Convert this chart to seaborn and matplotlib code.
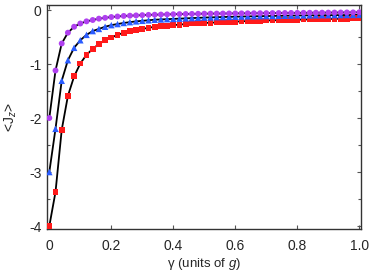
import numpy as np
import pandas as pd
import matplotlib
matplotlib.use("Agg")
import matplotlib.pyplot as plt
import seaborn as sns
from matplotlib.ticker import MultipleLocator, FixedLocator

gamma = [round(0.02 * i, 2) for i in range(51)]

jz_red = [-4.00, -3.37, -2.22, -1.59, -1.23, -0.99, -0.83, -0.72, -0.63, -0.56,
          -0.51, -0.46, -0.42, -0.39, -0.37, -0.35, -0.33, -0.31, -0.30, -0.29,
          -0.28, -0.27, -0.26, -0.25, -0.245, -0.24, -0.235, -0.23, -0.225, -0.22,
          -0.215, -0.21, -0.205, -0.20, -0.20, -0.195, -0.19, -0.19, -0.185, -0.18,
          -0.18, -0.175, -0.175, -0.17, -0.17, -0.165, -0.165, -0.16, -0.16, -0.155,
          -0.155]

jz_blue = [-3.00, -2.20, -1.31, -0.93, -0.70, -0.56, -0.46, -0.39, -0.35, -0.31,
           -0.28, -0.26, -0.24, -0.225, -0.21, -0.20, -0.19, -0.18, -0.175, -0.17,
           -0.165, -0.16, -0.155, -0.15, -0.145, -0.14, -0.137, -0.133, -0.13, -0.127,
           -0.124, -0.121, -0.118, -0.116, -0.114, -0.112, -0.11, -0.108, -0.106, -0.104,
           -0.102, -0.10, -0.099, -0.098, -0.097, -0.096, -0.095, -0.094, -0.093, -0.092,
           -0.09]

jz_purple = [-2.00, -1.12, -0.62, -0.42, -0.31, -0.25, -0.21, -0.185, -0.16, -0.145,
             -0.13, -0.12, -0.11, -0.105, -0.10, -0.095, -0.09, -0.087, -0.084, -0.081,
             -0.078, -0.076, -0.074, -0.072, -0.07, -0.068, -0.067, -0.066, -0.065, -0.064,
             -0.063, -0.062, -0.061, -0.06, -0.059, -0.058, -0.057, -0.056, -0.055, -0.054,
             -0.053, -0.052, -0.051, -0.05, -0.049, -0.048, -0.047, -0.046, -0.045, -0.044,
             -0.043]

series = {"red": jz_red, "blue": jz_blue, "purple": jz_purple}
colors = {"red": "#ff1a1a", "blue": "#2a5cff", "purple": "#b040f0"}
markers = {"red": "s", "blue": "^", "purple": "o"}
msize = {"red": 18, "blue": 22, "purple": 18}

xticks = [0, 0.2, 0.4, 0.6, 0.8, 1.0]
xticklabels = ["0", "0.2", "0.4", "0.6", "0.8", "1.0"]
yticks = [0, -1, -2, -3, -4]
yticklabels = ["0", "-1", "-2", "-3", "-4"]

sns.set_style("ticks")
plt.rcParams["font.family"] = ["Liberation Sans", "DejaVu Sans"]
plt.rcParams["mathtext.fontset"] = "custom"
plt.rcParams["mathtext.rm"] = "Liberation Sans"
plt.rcParams["mathtext.it"] = "Liberation Sans:italic"
plt.rcParams["axes.unicode_minus"] = False

fig = plt.figure(figsize=(3.74, 2.72), dpi=100)
ax = fig.add_axes([0.1257, 0.157, 0.964 - 0.1257, 0.9805 - 0.157])

frames = []
for name, vals in series.items():
    frames.append(pd.DataFrame({"gamma": gamma, "jz": vals, "series": name}))
df = pd.concat(frames, ignore_index=True)

for name in series:
    sub = df[df["series"] == name]
    sns.lineplot(data=sub, x="gamma", y="jz", color="black", linewidth=1.3, ax=ax,
                 zorder=2, legend=False, estimator=None, sort=False)
for name in series:
    sub = df[df["series"] == name]
    sns.scatterplot(data=sub, x="gamma", y="jz", marker=markers[name], s=msize[name],
                    color=colors[name], edgecolor="none", linewidth=0, ax=ax, zorder=3,
                    legend=False)

ax.set_xlim(-0.0074, 1.004)
ax.set_ylim(-4.06, 0.087)
ax.xaxis.set_major_locator(FixedLocator(xticks))
ax.set_xticklabels(xticklabels)
ax.yaxis.set_major_locator(FixedLocator(yticks))
ax.set_yticklabels(yticklabels)
ax.yaxis.set_minor_locator(MultipleLocator(0.5))

ax.tick_params(which="both", direction="in", top=True, right=True, color="#555555",
               labelsize=10)
ax.tick_params(axis="x", which="both", pad=7)
ax.tick_params(axis="y", which="both", pad=4)
ax.tick_params(which="major", length=3, width=0.8)
ax.tick_params(which="minor", length=2, width=0.8)
for sp in ax.spines.values():
    sp.set_color("#333333")
    sp.set_linewidth(1.0)

ax.set_xlabel(r"γ (units of $g$)", fontsize=9.5, labelpad=2)
ax.set_ylabel(r"<J$_z$>", fontsize=10, labelpad=7)

fig.savefig("out.png", dpi=100)
